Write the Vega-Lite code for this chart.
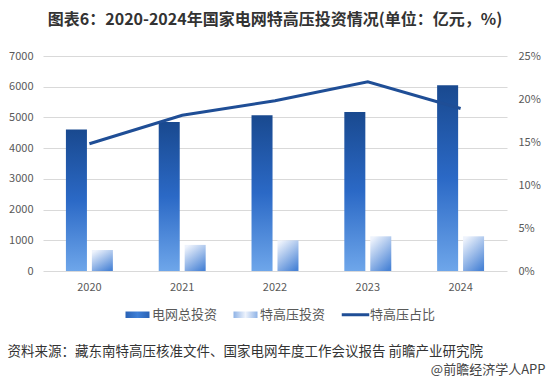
{
  "$schema": "https://vega.github.io/schema/vega-lite/v6.json",
  "width": 464,
  "height": 215,
  "autosize": {"type": "none"},
  "padding": {"left": 43, "top": 56, "right": 40, "bottom": 113},
  "background": "white",
  "config": {
    "font": "Noto Sans CJK SC",
    "view": {"stroke": null},
    "axis": {"labelFont": "Noto Sans CJK SC", "titleFont": "Noto Sans CJK SC"}
  },
  "title": {
    "text": "图表6：2020-2024年国家电网特高压投资情况(单位：亿元，%)",
    "fontSize": 16,
    "fontWeight": "bold",
    "color": "#333333",
    "anchor": "middle",
    "offset": 22
  },
  "data": {
    "values": [
      {"year": "2020", "series": "电网总投资", "value": 4605},
      {"year": "2021", "series": "电网总投资", "value": 4850},
      {"year": "2022", "series": "电网总投资", "value": 5070},
      {"year": "2023", "series": "电网总投资", "value": 5180},
      {"year": "2024", "series": "电网总投资", "value": 6050},
      {"year": "2020", "series": "特高压投资", "value": 680},
      {"year": "2021", "series": "特高压投资", "value": 850},
      {"year": "2022", "series": "特高压投资", "value": 1000},
      {"year": "2023", "series": "特高压投资", "value": 1130},
      {"year": "2024", "series": "特高压投资", "value": 1130},
      {"year": "2020", "series": "特高压占比", "value": 14.8},
      {"year": "2021", "series": "特高压占比", "value": 18.1},
      {"year": "2022", "series": "特高压占比", "value": 19.8},
      {"year": "2023", "series": "特高压占比", "value": 22.0},
      {"year": "2024", "series": "特高压占比", "value": 18.9}
    ]
  },
  "layer": [
    {
      "encoding": {
        "x": {
          "field": "year",
          "type": "ordinal",
          "scale": {"paddingInner": 0.494, "paddingOuter": 0.247},
          "axis": {
            "orient": "bottom",
            "labelAngle": 0,
            "labelColor": "#595959",
            "labelFontSize": 11,
            "labelPadding": 10,
            "ticks": false,
            "domain": false,
            "title": "资料来源：藏东南特高压核准文件、国家电网年度工作会议报告 前瞻产业研究院",
            "titleFontSize": 13.5,
            "titleFontWeight": "normal",
            "titleColor": "#333333",
            "titleAnchor": null,
            "titleAlign": "left",
            "titleBaseline": "middle",
            "titleX": -36,
            "titleY": 80
          }
        },
        "xOffset": {
          "field": "series",
          "scale": {"domain": ["电网总投资", "特高压投资"], "paddingInner": 0.19, "paddingOuter": 0}
        },
        "y": {
          "field": "value",
          "type": "quantitative",
          "scale": {"domain": [0, 7000]},
          "axis": {
            "values": [0, 1000, 2000, 3000, 4000, 5000, 6000, 7000],
            "format": "d",
            "labelColor": "#595959",
            "labelFontSize": 11,
            "labelPadding": 10,
            "ticks": false,
            "domain": false,
            "gridColor": "#d9d9d9",
            "title": null
          }
        }
      },
      "layer": [
        {
          "transform": [{"filter": "datum.series === '电网总投资'"}],
          "mark": {
            "type": "bar",
            "fill": {"gradient": "linear", "x1": 0, "y1": 0, "x2": 0, "y2": 1, "stops": [{"offset": 0, "color": "#19498f"}, {"offset": 0.5, "color": "#2b69c6"}, {"offset": 1, "color": "#6ea6ea"}]}
          }
        },
        {
          "transform": [{"filter": "datum.series === '特高压投资'"}],
          "mark": {
            "type": "bar",
            "fill": {"gradient": "linear", "x1": 0.2, "y1": 0, "x2": 0.8, "y2": 1, "stops": [{"offset": 0, "color": "#eef3fc"}, {"offset": 1, "color": "#4a84d6"}]}
          }
        }
      ]
    },
    {
      "transform": [{"filter": "datum.series === '特高压占比'"}],
      "mark": {"type": "line", "strokeWidth": 3},
      "encoding": {
        "x": {
          "field": "year",
          "type": "ordinal",
          "axis": {
            "orient": "bottom",
            "labels": false,
            "ticks": false,
            "domain": false,
            "grid": false,
            "title": "@前瞻经济学人APP",
            "titleFontSize": 13,
            "titleFontWeight": "normal",
            "titleColor": "#444444",
            "titleAnchor": null,
            "titleAlign": "right",
            "titleBaseline": "middle",
            "titleX": 502,
            "titleY": 98
          }
        },
        "y": {
          "field": "value",
          "type": "quantitative",
          "scale": {"domain": [0, 25]},
          "axis": {
            "orient": "right",
            "values": [0, 5, 10, 15, 20, 25],
            "labelExpr": "datum.value + '%'",
            "labelColor": "#595959",
            "labelFontSize": 11,
            "labelPadding": 11,
            "ticks": false,
            "domain": false,
            "grid": false,
            "title": null
          }
        },
        "color": {
          "field": "series",
          "type": "nominal",
          "scale": {
            "domain": ["电网总投资", "特高压投资", "特高压占比"],
            "range": ["#2d6cc9", "#a9c6ef", "#1f4e96"]
          },
          "legend": {
            "orient": "none",
            "legendX": 82,
            "legendY": 246,
            "direction": "horizontal",
            "title": null,
            "labelFontSize": 13,
            "labelColor": "#595959",
            "labelFont": "Noto Sans CJK SC",
            "symbolSize": 625,
            "columnPadding": 15,
            "labelOffset": 2,
            "symbolStrokeWidth": 0,
            "encode": {
              "symbols": {
                "update": {
                  "shape": {"signal": "datum.value === '特高压占比' ? 'M-1.1,-0.12H1.1V0.12H-1.1Z' : 'M-0.96,-0.26H0.96V0.26H-0.96Z'"},
                  "fill": {"signal": "datum.value === '电网总投资' ? {gradient: 'linear', x1: 0, y1: 0, x2: 1, y2: 0, stops: [{offset: 0, color: '#2a62b5'}, {offset: 0.5, color: '#3f7fd6'}, {offset: 1, color: '#2a62b5'}]} : datum.value === '特高压投资' ? {gradient: 'linear', x1: 0, y1: 0, x2: 1, y2: 0, stops: [{offset: 0, color: '#8fb3e6'}, {offset: 0.5, color: '#eef3fc'}, {offset: 1, color: '#8fb3e6'}]} : '#1f4e96'"},
                  "stroke": {"value": "transparent"},
                  "opacity": {"value": 1}
                }
              }
            }
          }
        }
      }
    }
  ],
  "resolve": {"scale": {"y": "independent"}, "axis": {"x": "independent"}}
}
